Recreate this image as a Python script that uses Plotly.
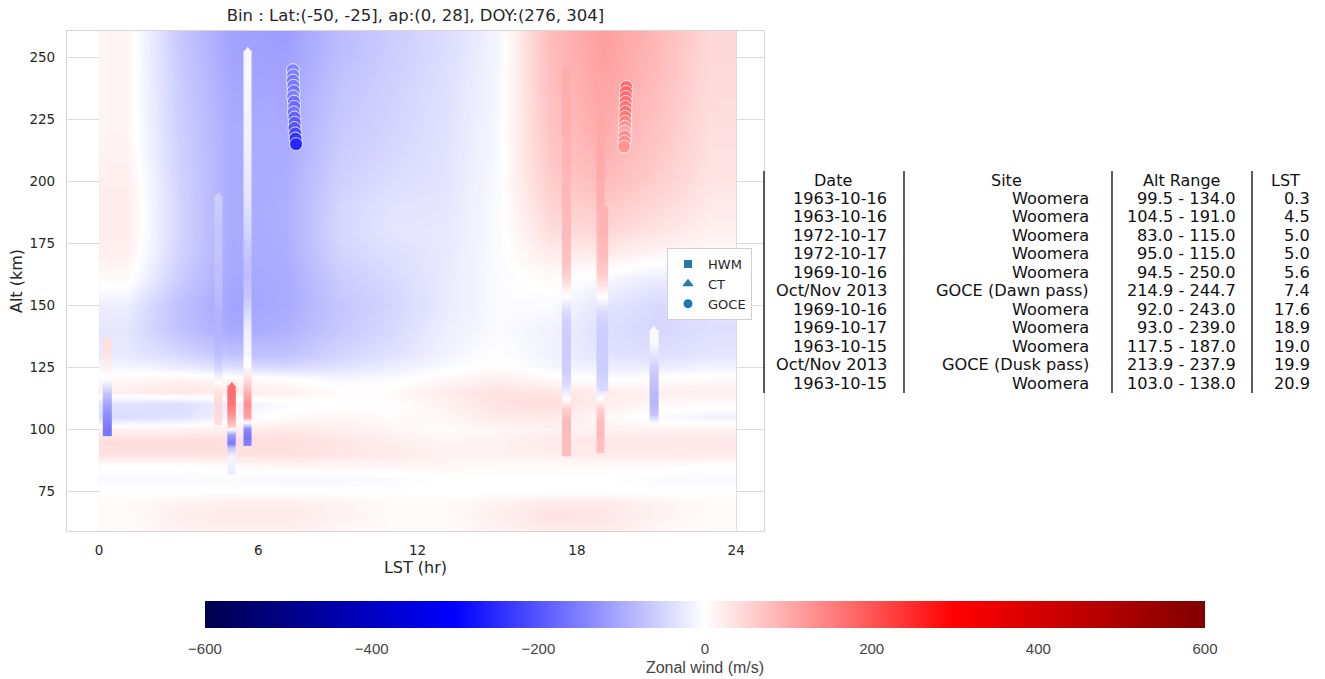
import plotly.graph_objects as go

# ---------------- data ----------------
title_text = "Bin : Lat:(-50, -25], ap:(0, 28], DOY:(276, 304]"

# HWM model field (cell centres)
hwm_lst = [1, 3, 5, 7, 9, 11, 13, 15, 17, 19, 21, 23]
hwm_alt = [60, 65, 70, 75, 80, 85, 90, 95, 100, 105, 110, 115, 120, 125, 130,
           140, 150, 160, 170, 180, 190, 200, 210, 220, 230, 240, 250, 260]
hwm_wind = [
    [5, 15, 20, 20, 10, 5, 5, 15, 25, 25, 10, 5],            # 60
    [5, 20, 25, 25, 15, 5, 5, 20, 35, 30, 15, 5],            # 65
    [5, 15, 20, 20, 15, 5, 5, 15, 25, 25, 15, 5],            # 70
    [0, 0, 0, 0, 0, 0, 0, 0, 0, 0, 0, 0],                    # 75
    [-5, -5, -5, -10, -10, -5, 0, 0, 0, 0, -5, -5],          # 80
    [0, 0, 5, 10, 10, 10, 10, 5, 5, 5, 5, 0],                # 85
    [35, 35, 35, 35, 30, 25, 15, 15, 20, 25, 25, 25],        # 90
    [40, 40, 40, 40, 30, 20, 10, 15, 25, 30, 30, 30],        # 95
    [15, 15, 20, 25, 20, 10, 5, 10, 15, 15, 15, 15],         # 100
    [-40, -35, -10, 5, 10, 5, 10, 25, 25, 10, -5, -15],      # 105
    [-35, -40, -20, -5, 0, 0, 15, 35, 40, 20, 10, 5],        # 110
    [20, 30, 22, 18, 5, 5, 22, 35, 30, 22, 18, 18],          # 115
    [8, 15, 10, 2, -10, -5, 8, 18, 8, -2, 3, 8],             # 120
    [-10, -22, -40, -45, -35, -20, -5, 5, -10, -20, -22, -15],  # 125
    [-25, -45, -72, -72, -50, -35, -15, 0, -15, -32, -38, -30],  # 130
    [-30, -72, -102, -92, -65, -45, -20, -5, -15, -38, -48, -38],  # 140
    [-20, -75, -108, -100, -68, -50, -25, -5, -5, -30, -45, -35],  # 150
    [5, -60, -105, -100, -62, -45, -25, -5, 5, -10, -25, -20],     # 160
    [18, -52, -102, -96, -52, -38, -26, -5, 22, 22, 10, 5],        # 170
    [22, -50, -100, -95, -48, -30, -28, -5, 40, 48, 32, 18],       # 180
    [22, -50, -100, -95, -50, -32, -30, -5, 50, 65, 45, 25],       # 190
    [20, -52, -100, -96, -55, -40, -32, -6, 60, 80, 58, 32],       # 200
    [15, -54, -100, -98, -60, -46, -33, -8, 66, 90, 65, 35],       # 210
    [12, -56, -100, -100, -64, -50, -35, -8, 70, 98, 70, 38],      # 220
    [12, -58, -102, -104, -68, -52, -36, -10, 72, 104, 74, 40],    # 230
    [12, -60, -105, -108, -72, -55, -38, -10, 75, 108, 78, 42],    # 240
    [12, -62, -108, -112, -78, -58, -40, -12, 78, 112, 82, 45],    # 250
    [12, -65, -110, -115, -80, -60, -42, -12, 80, 115, 85, 45],    # 260
]

# CT (rocket) profiles
ct_lst = [0.3, 4.5, 5.0, 5.0, 5.6, 17.6, 18.9, 19.0, 20.9]
ct_alt_a = [99.5, 104.5, 109.5, 114.5, 119.5, 124.5, 129.5, 134.0]
ct_wind_a = [-160, -140, -110, -70, -10, 15, 30, 35]
ct_alt_b = [104.5, 110, 115, 120, 125, 130, 135, 140, 145, 150, 155, 160, 165, 170, 175, 180, 185, 191]
ct_wind_b = [40, 45, 35, -5, -50, -75, -85, -90, -90, -85, -80, -75, -75, -70, -70, -70, -65, -60]
ct_alt_c = [83, 86, 89, 92, 95, 98, 102, 106, 110, 115]
ct_wind_c = [-20, -15, -10, -60, -150, -120, 80, 130, 160, 170]
ct_alt_d = [95, 98, 101, 104, 107, 110, 113, 115]
ct_wind_d = [-150, -110, 60, 100, 140, 160, 170, 170]
ct_alt_e = [94.5, 97, 100, 105, 110, 115, 120, 125, 130, 135, 140, 145, 150, 155, 160, 165, 170,
            175, 180, 185, 190, 195, 200, 205, 210, 215, 220, 225, 230, 235, 240, 245, 250]
ct_wind_e = [-150, -160, -140, 110, 130, 90, 40, 5, -10, -15, -20, -35, -55, -70, -75, -75, -70,
             -60, -50, -42, -35, -30, -28, -25, -20, -18, -15, -15, -12, -12, -10, -10, -10]
ct_alt_f = [92, 98, 103, 108, 113, 118, 123, 128, 133, 138, 143, 148, 153, 158, 163, 168, 173,
            178, 183, 188, 193, 198, 203, 208, 213, 218, 223, 228, 233, 238, 243]
ct_wind_f = [75, 80, 80, 60, -5, -40, -55, -60, -60, -60, -55, -40, -5, 30, 60, 70, 75,
             80, 80, 80, 85, 85, 85, 90, 90, 90, 95, 95, 95, 95, 95]
ct_alt_g = [93, 98, 103, 108, 113, 118, 123, 128, 133, 138, 143, 148, 153, 158, 163, 168, 173,
            178, 183, 188, 193, 198, 203, 208, 213, 218, 223, 228, 233, 239]
ct_wind_g = [75, 80, 80, 55, -5, -45, -55, -60, -60, -60, -55, -40, -5, 30, 60, 70, 75,
             80, 85, 90, 95, 95, 100, 100, 100, 100, 105, 105, 105, 105]
ct_alt_h = [117.5, 122, 127, 132, 137, 142, 147, 152, 157, 162, 167, 172, 177, 182, 187]
ct_wind_h = [-45, -55, -60, -60, -60, -55, -45, -10, 25, 55, 70, 80, 85, 90, 90]
ct_alt_i = [103, 106, 110, 115, 120, 125, 130, 134, 138]
ct_wind_i = [-10, -70, -85, -80, -70, -55, -30, -10, -5]
ct_alts = [ct_alt_a, ct_alt_b, ct_alt_c, ct_alt_d, ct_alt_e, ct_alt_f, ct_alt_g, ct_alt_h, ct_alt_i]
ct_winds = [ct_wind_a, ct_wind_b, ct_wind_c, ct_wind_d, ct_wind_e, ct_wind_f, ct_wind_g, ct_wind_h, ct_wind_i]

# GOCE passes
goce_dawn_alt = [244.7, 242.6, 240.5, 238.4, 236.2, 234.1, 232.0, 229.9, 227.7, 225.6, 223.5, 221.4, 219.2, 217.1, 214.9]
goce_dawn_lst = [7.30, 7.31, 7.30, 7.32, 7.33, 7.31, 7.34, 7.35, 7.33, 7.36, 7.37, 7.36, 7.39, 7.40, 7.42]
goce_dawn_wind = [-150, -150, -160, -155, -165, -150, -170, -175, -165, -185, -195, -200, -215, -240, -255]
goce_dusk_alt = [237.9, 235.9, 233.9, 231.9, 229.9, 227.9, 225.9, 223.9, 221.9, 219.9, 217.9, 215.9, 213.9]
goce_dusk_lst = [19.86, 19.85, 19.84, 19.84, 19.83, 19.83, 19.82, 19.82, 19.81, 19.80, 19.80, 19.79, 19.78]
goce_dusk_wind = [175, 180, 175, 170, 165, 170, 160, 150, 130, 110, 140, 135, 125]

# table
table_header = ["Date", "Site", "Alt Range", "LST"]
table_date = ["1963-10-16", "1963-10-16", "1972-10-17", "1972-10-17", "1969-10-16", "Oct/Nov 2013",
              "1969-10-16", "1969-10-17", "1963-10-15", "Oct/Nov 2013", "1963-10-15"]
table_site = ["Woomera", "Woomera", "Woomera", "Woomera", "Woomera", "GOCE (Dawn pass)",
              "Woomera", "Woomera", "Woomera", "GOCE (Dusk pass)", "Woomera"]
table_alt = ["99.5 - 134.0", "104.5 - 191.0", "83.0 - 115.0", "95.0 - 115.0", "94.5 - 250.0",
             "214.9 - 244.7", "92.0 - 243.0", "93.0 - 239.0", "117.5 - 187.0", "213.9 - 237.9",
             "103.0 - 138.0"]
table_lst = ["0.3", "4.5", "5.0", "5.0", "5.6", "7.4", "17.6", "18.9", "19.0", "19.9", "20.9"]

cbar_ticks = [-600, -400, -200, 0, 200, 400, 600]
x_ticks = [0, 6, 12, 18, 24]
y_ticks = [75, 100, 125, 150, 175, 200, 225, 250]

# ---------------- figure ----------------
W, H = 1325, 679
def px(x):
    return x / W
def py(y):
    return 1 - y / H

seismic = [[0.0, 'rgb(0,0,77)'], [0.25, 'rgb(0,0,255)'], [0.5, 'rgb(255,255,255)'],
           [0.75, 'rgb(255,0,0)'], [1.0, 'rgb(128,0,0)']]
FONT = "DejaVu Sans"
TXT = "#262626"
legend_blue = "#1f77b4"

fig = go.Figure()

fig.add_trace(go.Heatmap(x=hwm_lst, y=hwm_alt, z=hwm_wind, zsmooth='best',
                         coloraxis='coloraxis', showlegend=False, hoverinfo='skip'))

half_w = 0.08
for lst, alts, winds in zip(ct_lst, ct_alts, ct_winds):
    fig.add_trace(go.Heatmap(x=[lst - half_w, lst + half_w], y=alts,
                             z=[[w, w] for w in winds], zsmooth='best',
                             coloraxis='coloraxis', showlegend=False, hoverinfo='skip'))

# pointed tops of CT profiles
tip_y = [a[-1] + (a[-1] - a[-2]) / 2 for a in ct_alts]
tip_c = [w[-1] for w in ct_winds]
fig.add_trace(go.Scatter(x=ct_lst, y=tip_y, mode='markers', showlegend=False, hoverinfo='skip',
                         marker=dict(symbol='triangle-up', size=8, color=tip_c,
                                     coloraxis='coloraxis', line=dict(width=0))))

for lsts, alts, winds in [(goce_dawn_lst, goce_dawn_alt, goce_dawn_wind),
                          (goce_dusk_lst, goce_dusk_alt, goce_dusk_wind)]:
    fig.add_trace(go.Scatter(x=lsts, y=alts, mode='markers', showlegend=False, hoverinfo='skip',
                             marker=dict(symbol='circle', size=13, color=winds, coloraxis='coloraxis',
                                         line=dict(width=0.8, color='white'))))

# legend entries
for name, sym, sz in [("HWM", "square", 8), ("CT", "triangle-up", 10), ("GOCE", "circle", 9)]:
    fig.add_trace(go.Scatter(x=[None], y=[None], mode='markers', name=name,
                             marker=dict(symbol=sym, size=sz, color=legend_blue)))

# table
col_lines = [764, 904, 1112, 1252]
for xl in col_lines:
    fig.add_shape(type='line', xref='paper', yref='paper', x0=px(xl), x1=px(xl),
                  y0=py(171), y1=py(393), line=dict(color='#1a1a1a', width=1.4))
hdr_x = [833, 1006, 1181, 1285]
for t, xc in zip(table_header, hdr_x):
    fig.add_annotation(x=px(xc), y=py(181), xref='paper', yref='paper', text=t, showarrow=False,
                       xanchor='center', yanchor='middle', font=dict(family=FONT, size=16, color='#111'))
col_right = [889, 1091, 1238, 1312]
for i in range(len(table_date)):
    yc = 198.5 + 18.45 * i
    for vals, xr in zip([table_date, table_site, table_alt, table_lst], col_right):
        fig.add_annotation(x=px(xr), y=py(yc), xref='paper', yref='paper', text=vals[i],
                           showarrow=False, xanchor='right', yanchor='middle',
                           font=dict(family=FONT, size=16.2, color='#111'))

axis_common = dict(showline=True, mirror=True, linecolor='#d6d6d6', linewidth=1.2,
                   showgrid=True, gridcolor='#dcdcdc', gridwidth=1, zeroline=False,
                   ticks='outside', tickcolor='rgba(0,0,0,0)',
                   tickfont=dict(family=FONT, size=13.5, color=TXT))

fig.update_layout(
    width=W, height=H,
    margin=dict(l=0, r=0, t=0, b=0, autoexpand=False),
    paper_bgcolor='white', plot_bgcolor='white',
    title=dict(text=title_text, x=px(415.5), xanchor='center', y=py(15), yanchor='middle',
               font=dict(family=FONT, size=16.5, color=TXT)),
    xaxis=dict(domain=[px(67), px(764)], range=[-1.21, 25.05], tickvals=x_ticks, ticklen=7,
               title=dict(text="LST (hr)", standoff=4, font=dict(family=FONT, size=16, color=TXT)),
               **axis_common),
    yaxis=dict(domain=[py(531), py(31)], range=[58.9, 260.5], tickvals=y_ticks, ticklen=8,
               title=dict(text="Alt (km)", standoff=2, font=dict(family=FONT, size=16, color=TXT)),
               **axis_common),
    coloraxis=dict(
        cmin=-600, cmax=600, colorscale=seismic,
        colorbar=dict(orientation='h', x=px(705), xanchor='center', y=py(601), yanchor='top',
                      len=1000, lenmode='pixels', thickness=27, thicknessmode='pixels',
                      outlinewidth=0, xpad=0, ypad=0, tickvals=cbar_ticks,
                      ticks='outside', ticklen=8, tickcolor='rgba(0,0,0,0)',
                      tickfont=dict(family="Liberation Sans", size=15, color='#444'),
                      title=dict(text="Zonal wind (m/s)", side='bottom',
                                 font=dict(family="Liberation Sans", size=16, color='#444')))
    ),
    legend=dict(x=px(667), y=py(248), xanchor='left', yanchor='top', bgcolor='white',
                bordercolor='#cfcfcf', borderwidth=1, font=dict(family=FONT, size=13, color=TXT),
                itemclick=False),
    showlegend=True,
)

fig.write_html("out.html")
